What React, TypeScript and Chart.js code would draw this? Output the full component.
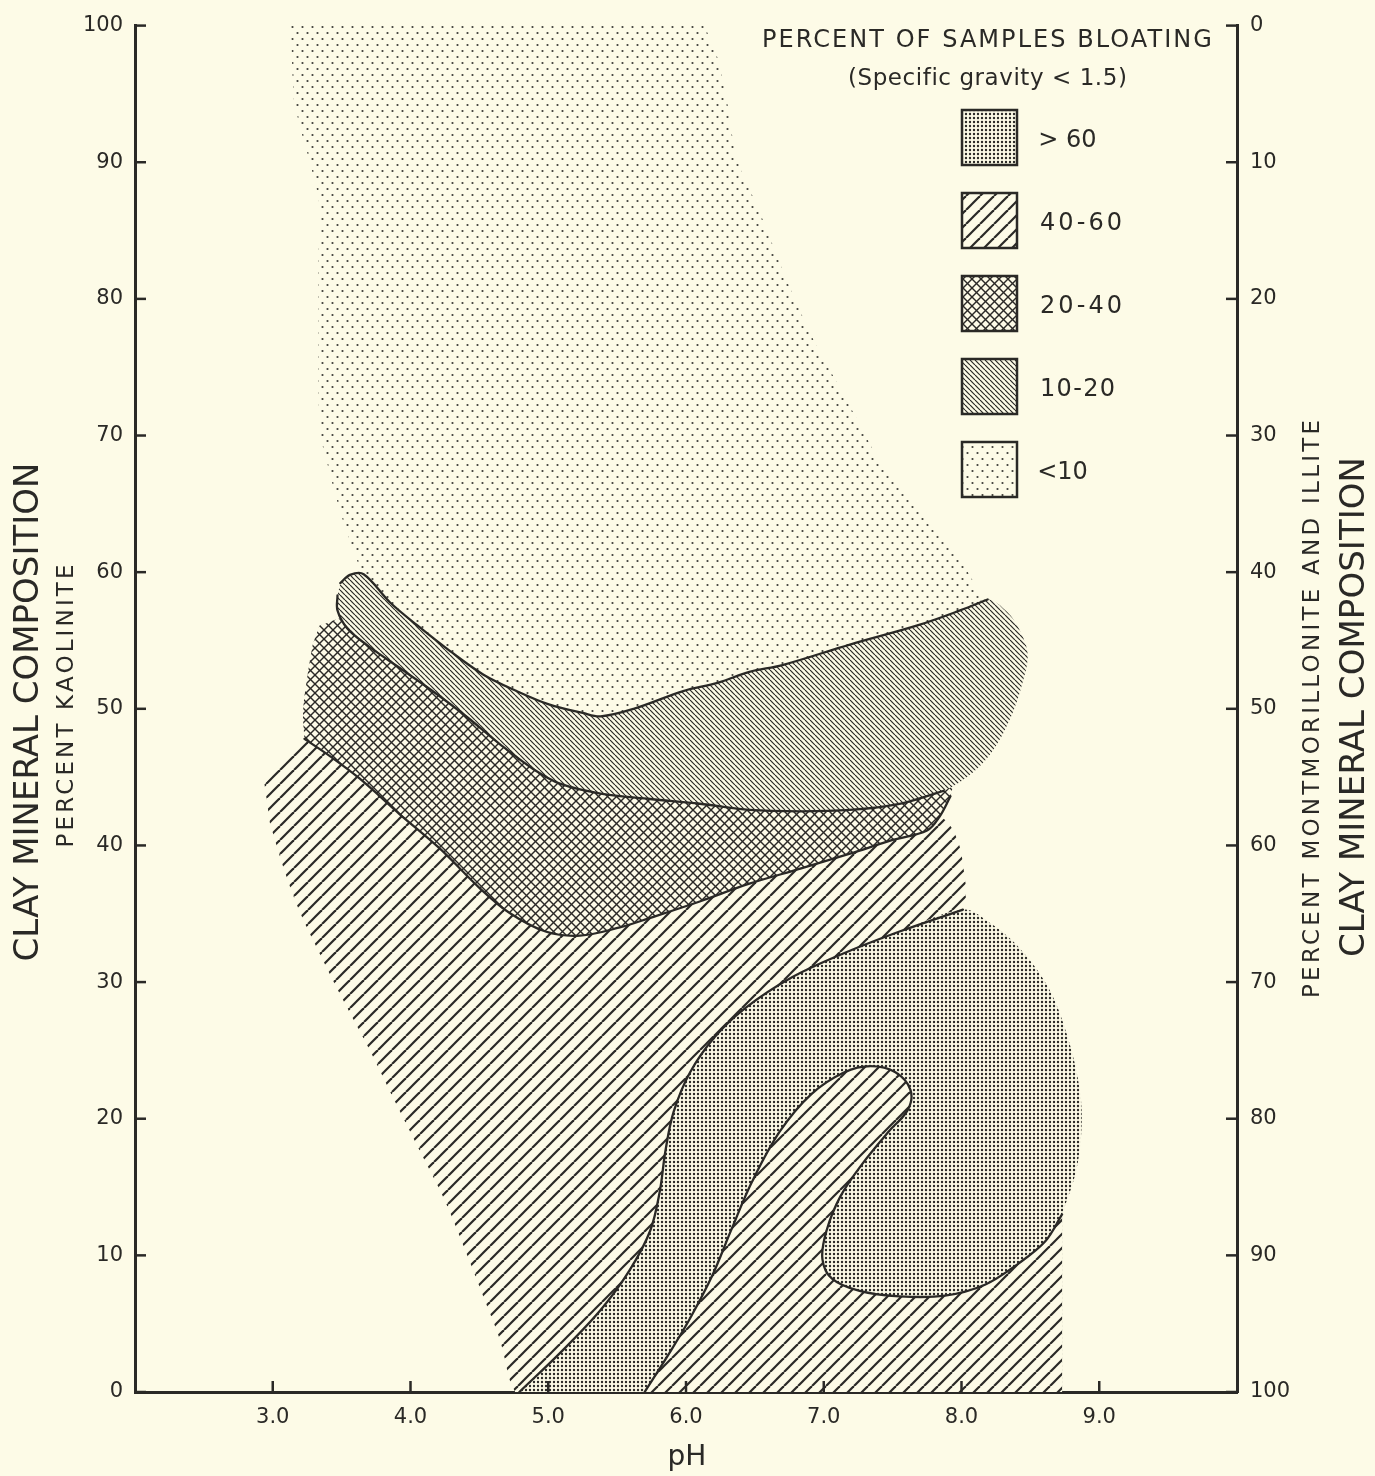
import React, { useEffect, useRef } from 'react';
import { Chart, registerables } from 'chart.js';

Chart.register(...registerables);

type Pt = [number, number];

const INK = '#2a2926';
const PAPER = '#fdfbe7';
const FAMILY = '"DejaVu Sans", "Liberation Sans", sans-serif';
const W = 1375;
const H = 1476;

// ---- axes ----
const X_MIN = 2;
const X_MAX = 10;
const Y_MIN = 0;
const Y_MAX = 100;
const xTickValues = [3, 4, 5, 6, 7, 8, 9];
const yTickStep = 10;

// ---- texts ----
const leftTitle = 'CLAY MINERAL COMPOSITION';
const leftSub = 'PERCENT KAOLINITE';
const rightTitle = 'CLAY MINERAL COMPOSITION';
const rightSub = 'PERCENT MONTMORILLONITE AND ILLITE';
const xTitle = 'pH';
const legendTitle = 'PERCENT OF SAMPLES BLOATING';
const legendSubtitle = '(Specific gravity < 1.5)';
const legendLabels = ['> 60', '40-60', '20-40', '10-20', '<10'];
const legendPatterns = ['dense', 'fwd', 'cross', 'back', 'sparse'];

// ---- region boundaries: [pH, percent kaolinite] ----
// < 10 % bloating (sparse dots)
const lt10Left: Pt[] = [[3.13, 100], [3.15, 94.7], [3.2, 92.5], [3.28, 89.6], [3.34, 86.7], [3.33, 83.0], [3.33, 79.4], [3.34, 70.7], [3.4, 67.8], [3.5, 64.1], [3.6, 61.2], [3.65, 59.9]];
const lt10Right: Pt[] = [[6.14, 100], [6.15, 99.6], [6.23, 97.6], [6.3, 94.3], [6.37, 90.3], [6.52, 86.7], [6.76, 80.7], [6.95, 76.5], [7.1, 73.8], [7.24, 71.2], [7.43, 67.8], [7.63, 65.6], [7.77, 63.4], [7.97, 61.2], [8.16, 58.1]];

// 10-20 % band (dense back hatch)
const bandTop: Pt[] = [[3.49, 59.2], [3.56, 59.8], [3.66, 59.85], [3.85, 57.8], [4.05, 56.1], [4.29, 54.2], [4.53, 52.5], [4.77, 51.3], [5.01, 50.3], [5.25, 49.7], [5.38, 49.45], [5.62, 50.0], [5.98, 51.3], [6.23, 51.9], [6.46, 52.7], [6.7, 53.2], [7.19, 54.7], [7.68, 56.1], [7.99, 57.2], [8.19, 58.0]];
const bandCap: Pt[] = [[8.33, 57.1], [8.42, 55.8], [8.48, 54.0], [8.44, 51.8], [8.35, 49.2], [8.21, 46.7], [8.04, 45.0]];
const bandBottom: Pt[] = [[7.87, 44.0], [7.55, 43.05], [7.19, 42.6], [6.83, 42.5], [6.46, 42.6], [6.1, 43.05], [5.74, 43.4], [5.38, 43.8], [5.09, 44.5], [4.89, 45.6], [4.65, 47.4], [4.41, 49.4], [4.16, 51.3], [3.92, 53.0], [3.68, 54.7], [3.54, 55.9], [3.47, 57.2], [3.47, 58.3]];

// 20-40 % (cross hatch)
const crossUnder: Pt[] = [[3.34, 56.1], [3.55, 56.6], [3.92, 54.5], [4.41, 51.0], [4.89, 47.0], [5.38, 45.5], [6.1, 44.5], [6.83, 44.0], [7.55, 44.5], [7.92, 45.0]];
const crossBottom: Pt[] = [[7.92, 43.6], [7.84, 42.1], [7.75, 41.1], [7.5, 40.4], [7.19, 39.4], [6.83, 38.3], [6.46, 37.2], [6.1, 35.9], [5.74, 34.7], [5.52, 34.0], [5.23, 33.4], [4.98, 33.7], [4.72, 35.05], [4.5, 36.9], [4.21, 39.8], [3.92, 42.3], [3.63, 44.9], [3.42, 46.5], [3.23, 47.8]];
const crossLeft: Pt[] = [[3.22, 49.8], [3.25, 52.3], [3.29, 54.7]];

// 40-60 % main area (forward hatch)
const hatchTop: Pt[] = [[2.94, 44.5], [3.23, 47.8], [4.65, 43.0], [6.1, 39.4], [7.55, 42.0]];
const hatchRight: Pt[] = [[7.84, 42.1], [7.95, 40.9], [8.01, 38.7], [8.01, 35.4], [7.55, 28.5], [6.1, 6.7], [5.52, 0]];
const hatchLeft: Pt[] = [[4.76, 0], [4.72, 0.9], [4.65, 3.8], [4.54, 6.7], [4.4, 10.3], [4.25, 14.0], [4.07, 17.6], [3.89, 21.2], [3.71, 24.9], [3.52, 28.5], [3.34, 32.1], [3.2, 35.05], [3.09, 38.0], [2.98, 41.6]];

// > 60 % (dense dots)
const over60Left: Pt[] = [[4.79, 0], [5.09, 2.9], [5.38, 6.0], [5.59, 8.9], [5.74, 11.8], [5.81, 14.7], [5.85, 17.6], [5.91, 20.5], [6.03, 23.4], [6.21, 26.0], [6.43, 28.1], [6.76, 30.3], [7.12, 32.0], [7.55, 33.7], [8.01, 35.3]];
const over60Outer: Pt[] = [[8.21, 34.3], [8.42, 32.5], [8.63, 29.6], [8.77, 26.0], [8.86, 22.0], [8.87, 19.05], [8.83, 16.1], [8.73, 13.0], [8.73, 0]];

// 40-60 % hook and lower right (forward hatch)
const fingerLeft: Pt[] = [[5.7, 0], [5.87, 2.7], [6.03, 5.4], [6.19, 8.5], [6.33, 11.9], [6.48, 15.4], [6.68, 19.05], [6.91, 21.8], [7.15, 23.4], [7.34, 23.85], [7.52, 23.4], [7.63, 22.1], [7.61, 20.65]];
const fingerRight: Pt[] = [[7.47, 19.05], [7.28, 16.7], [7.12, 14.3], [7.02, 11.8], [6.99, 9.75], [7.06, 8.3], [7.26, 7.4], [7.55, 7.0], [7.88, 7.05], [8.17, 7.85], [8.42, 9.45], [8.61, 11.05], [8.73, 13.0]];
const fingerBase: Pt[] = [[8.73, 0]];

// ---------------------------------------------------------------
const toXY = (pts: Pt[]) => pts.map(([x, y]) => ({ x, y }));
const dup = (p: Pt): Pt[] => [p, p];

function makePattern(kind: string): CanvasPattern {
  const c = document.createElement('canvas');
  let w = 4;
  let h = 4;
  if (kind === 'sparse') { w = 10; h = 12; }
  if (kind === 'fwd') { w = 14; h = 14; }
  if (kind === 'cross') { w = 9; h = 9; }
  if (kind === 'back') { w = 5; h = 5; }
  c.width = w;
  c.height = h;
  const g = c.getContext('2d') as CanvasRenderingContext2D;
  g.fillStyle = PAPER;
  g.fillRect(0, 0, w, h);
  g.fillStyle = INK;
  g.strokeStyle = INK;
  const fwd = (lw: number) => {
    g.lineWidth = lw;
    for (let k = -1; k <= 1; k++) {
      g.beginPath();
      g.moveTo(k * w, h);
      g.lineTo(k * w + w, 0);
      g.stroke();
    }
  };
  const back = (lw: number) => {
    g.lineWidth = lw;
    for (let k = -1; k <= 1; k++) {
      g.beginPath();
      g.moveTo(k * w, 0);
      g.lineTo(k * w + w, h);
      g.stroke();
    }
  };
  if (kind === 'dense') {
    g.beginPath();
    g.arc(2, 2, 1.2, 0, Math.PI * 2);
    g.fill();
  } else if (kind === 'sparse') {
    g.globalAlpha = 0.9;
    g.beginPath();
    g.arc(2.5, 3, 1.1, 0, Math.PI * 2);
    g.moveTo(7.5 + 1.1, 9);
    g.arc(7.5, 9, 1.1, 0, Math.PI * 2);
    g.fill();
  } else if (kind === 'fwd') {
    fwd(2.2);
  } else if (kind === 'cross') {
    fwd(1.4);
    back(1.4);
  } else if (kind === 'back') {
    back(1.2);
  }
  return g.createPattern(c, 'repeat') as CanvasPattern;
}

function drawSpaced(ctx: CanvasRenderingContext2D, text: string, cx: number, cy: number, size: number, span: number, vertical: boolean) {
  ctx.save();
  ctx.translate(cx, cy);
  if (vertical) ctx.rotate(-Math.PI / 2);
  ctx.font = `${size}px ${FAMILY}`;
  ctx.fillStyle = INK;
  ctx.textAlign = 'left';
  ctx.textBaseline = 'alphabetic';
  const c: any = ctx;
  c.letterSpacing = '0px';
  const w0 = ctx.measureText(text).width;
  const n = Array.from(text).length;
  const ls = n > 1 ? Math.max(0, (span - w0) / (n - 1)) : 0;
  const total = w0 + ls * (n - 1);
  c.letterSpacing = `${ls.toFixed(2)}px`;
  ctx.fillText(text, -total / 2, size * 0.365);
  c.letterSpacing = '0px';
  ctx.restore();
}

export default function App() {
  const ref = useRef<HTMLCanvasElement | null>(null);

  useEffect(() => {
    const canvas = ref.current;
    if (!canvas) return;
    const pats: Record<string, CanvasPattern> = {};
    ['dense', 'sparse', 'fwd', 'cross', 'back'].forEach((k) => { pats[k] = makePattern(k); });

    const lt10Shape: Pt[] = [...dup(lt10Left[0]), ...dup(lt10Right[0]), ...lt10Right.slice(1), ...bandTop.slice(2).reverse(), ...lt10Left.slice(1).reverse()];
    const bandShape: Pt[] = [...bandTop, ...bandCap, ...bandBottom];
    const crossShape: Pt[] = [...dup(crossUnder[0]), ...crossUnder.slice(1), ...crossBottom.slice(0, -1), ...dup(crossBottom[crossBottom.length - 1]), ...crossLeft];
    const hatchShape: Pt[] = [...dup(hatchTop[0]), ...dup(hatchTop[1]), ...hatchTop.slice(2), ...hatchRight.slice(0, -1), ...dup(hatchRight[hatchRight.length - 1]), ...dup(hatchLeft[0]), ...hatchLeft.slice(1)];
    const over60Shape: Pt[] = [...dup(over60Left[0]), ...over60Left.slice(1), ...over60Outer.slice(0, -2), ...dup(over60Outer[over60Outer.length - 2]), ...dup(over60Outer[over60Outer.length - 1])];
    const fingerShape: Pt[] = [...dup(fingerLeft[0]), ...fingerLeft.slice(1), ...fingerRight, fingerRight[fingerRight.length - 1], ...dup(fingerBase[0])];

    const area = (pts: Pt[], pattern: CanvasPattern, order: number) => ({
      data: toXY(pts), fill: 'shape', backgroundColor: pattern, borderColor: 'rgba(0,0,0,0)', borderWidth: 1,
      pointRadius: 0, tension: 0.35, order,
    });
    const edge = (pts: Pt[]) => ({
      data: toXY(pts), fill: false, borderColor: INK, borderWidth: 2.3, pointRadius: 0, tension: 0.35, order: 1,
      borderCapStyle: 'round', borderJoinStyle: 'round',
    });

    const datasets: any[] = [
      area(lt10Shape, pats.sparse, 10),
      area(hatchShape, pats.fwd, 9),
      area(crossShape, pats.cross, 8),
      area(bandShape, pats.back, 7),
      area(over60Shape, pats.dense, 6),
      area(fingerShape, pats.fwd, 5),
      edge(bandTop),
      edge(bandBottom),
      edge(crossBottom),
      edge(over60Left),
      edge([...fingerLeft, ...fingerRight]),
    ];

    const tickFont = { family: FAMILY, size: 21 };

    const paper = {
      id: 'paper',
      beforeDraw(chart: any) {
        const ctx = chart.ctx;
        ctx.save();
        ctx.fillStyle = PAPER;
        ctx.fillRect(0, 0, chart.width, chart.height);
        ctx.restore();
      },
    };

    const inwardTicks = {
      id: 'inwardTicks',
      afterDraw(chart: any) {
        const { ctx, chartArea: a, scales } = chart;
        const L = 11;
        ctx.save();
        ctx.strokeStyle = INK;
        ctx.lineWidth = 2.5;
        const seg = (x1: number, y1: number, x2: number, y2: number) => {
          ctx.beginPath(); ctx.moveTo(x1, y1); ctx.lineTo(x2, y2); ctx.stroke();
        };
        scales.x.ticks.forEach((t: any) => { const p = scales.x.getPixelForValue(t.value); seg(p, a.bottom, p, a.bottom - L); });
        scales.y.ticks.forEach((t: any) => { const p = scales.y.getPixelForValue(t.value); seg(a.left, p, a.left + L, p); });
        scales.y2.ticks.forEach((t: any) => { const p = scales.y2.getPixelForValue(t.value); seg(a.right, p, a.right - L, p); });
        ctx.restore();
      },
    };

    const titles = {
      id: 'titles',
      afterDraw(chart: any) {
        const ctx = chart.ctx;
        drawSpaced(ctx, leftTitle, 25.5, 712, 34, 485, true);
        drawSpaced(ctx, leftSub, 65, 706, 23, 283, true);
        drawSpaced(ctx, rightSub, 1311, 709, 23, 578, true);
        drawSpaced(ctx, rightTitle, 1352, 707, 34, 500, true);
        drawSpaced(ctx, xTitle, 687, 1455, 28, 37, false);
      },
    };

    const legendSpans = [55, 82, 82, 75, 45];
    const legendBox = {
      id: 'legendBox',
      afterDraw(chart: any) {
        const ctx = chart.ctx;
        drawSpaced(ctx, legendTitle, 987, 38, 24, 450, false);
        drawSpaced(ctx, legendSubtitle, 987.5, 77, 23, 279, false);
        legendLabels.forEach((lab, i) => {
          const y = 110 + i * 83;
          ctx.save();
          ctx.fillStyle = pats[legendPatterns[i]];
          ctx.fillRect(962, y, 55, 55);
          ctx.strokeStyle = INK;
          ctx.lineWidth = 2.5;
          ctx.strokeRect(962, y, 55, 55);
          ctx.restore();
          drawSpaced(ctx, lab, 1040 + legendSpans[i] / 2, y + 28, 24, legendSpans[i], false);
        });
      },
    };

    const chart = new Chart(canvas, {
      type: 'line',
      data: { datasets },
      options: {
        responsive: false,
        animation: false,
        devicePixelRatio: 1,
        events: [],
        layout: { padding: { top: 17, left: 0, right: 0, bottom: 0 } },
        plugins: {
          legend: { display: false },
          tooltip: { enabled: false },
          filler: { drawTime: 'beforeDatasetDraw', propagate: false },
        },
        elements: { point: { radius: 0 } },
        scales: {
          x: {
            type: 'linear', position: 'bottom', min: X_MIN, max: X_MAX, z: 1,
            grid: { display: false, drawTicks: false },
            border: { display: true, color: INK, width: 3 },
            afterBuildTicks: (s: any) => { s.ticks = xTickValues.map((v) => ({ value: v })); },
            ticks: { callback: (v: any) => Number(v).toFixed(1), font: tickFont, color: INK, padding: 13, autoSkip: false, maxRotation: 0 },
            afterFit: (s: any) => { s.height = 84; },
          },
          y: {
            type: 'linear', position: 'left', min: Y_MIN, max: Y_MAX, z: 1,
            grid: { display: false, drawTicks: false },
            border: { display: true, color: INK, width: 3 },
            ticks: { stepSize: yTickStep, font: tickFont, color: INK, padding: 12 },
            afterFit: (s: any) => { s.width = 135; },
          },
          y2: {
            type: 'linear', position: 'right', min: Y_MIN, max: Y_MAX, reverse: true, z: 1,
            grid: { display: false, drawTicks: false },
            border: { display: true, color: INK, width: 3 },
            ticks: { stepSize: yTickStep, font: tickFont, color: INK, padding: 13 },
            afterFit: (s: any) => { s.width = 138; },
          },
        },
      } as any,
      plugins: [paper, inwardTicks, titles, legendBox],
    });
    return () => chart.destroy();
  }, []);

  return (
    <canvas
      ref={ref}
      width={W}
      height={H}
      style={{ position: 'absolute', left: 0, top: 0, width: W, height: H, display: 'block' }}
    />
  );
}
